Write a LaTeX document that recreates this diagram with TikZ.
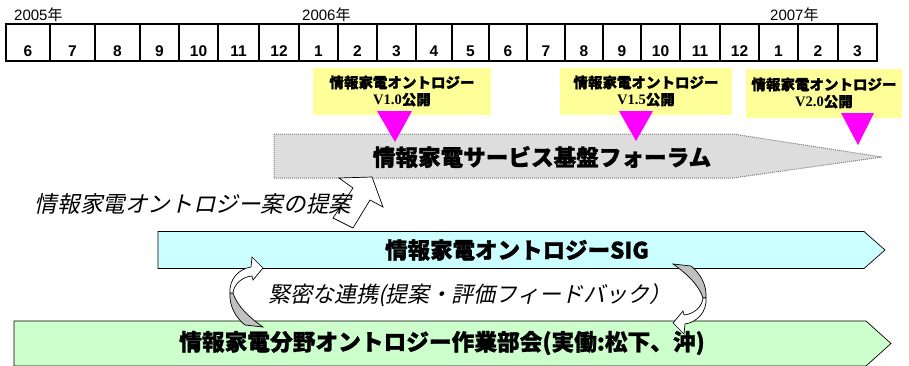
\documentclass[tikz,border=0pt]{standalone}
\usepackage{fontspec}
\setmainfont{Liberation Sans}
\newfontfamily\jp{Noto Sans CJK JP}[BoldFeatures={FakeBold=1.2}]
\newfontfamily\jpi{Noto Sans CJK JP}[FakeSlant=0.22]
\newfontfamily\tnr{Liberation Serif}
\definecolor{yfill}{HTML}{FFFF99}
\definecolor{mag}{HTML}{FF00FF}
\definecolor{gfill}{HTML}{DDDDDD}
\definecolor{cfill}{HTML}{CCFFFF}
\definecolor{grfill}{HTML}{CCFFCC}
\definecolor{cgray}{HTML}{C0C0C0}
\begin{document}
\begin{tikzpicture}[x=1pt,y=-1pt,
  cell/.style={draw=black,line width=2pt},
  num/.style={font=\fontsize{15.5}{16}\selectfont\bfseries,anchor=base,inner sep=0},
  year/.style={font=\fontsize{15}{15}\selectfont,anchor=base west,inner sep=0},
  ybox/.style={fill=yfill,draw=none,inner sep=0,align=center,font=\jp\bfseries\fontsize{14.5}{17}\selectfont},
  mtri/.style={fill=mag,draw=none},
  blk/.style={draw=black,line width=0.7pt},
  bigtxt/.style={inner sep=0,font=\jp\bfseries\fontsize{22.6}{22}\selectfont},
  itxt/.style={inner sep=0,font=\jpi\fontsize{22.6}{22}\selectfont},
]
\useasboundingbox (0,0) rectangle (909,365);
\fill[white] (0,0) rectangle (909,365);

% timeline
\foreach \a/\b/\m [count=\i] in {6/50/6,50/95/7,95/140/8,140/179/9,179/218/10,218/259/11,259/299/12,299/338/1,338/377/2,377/416/3,416/452/4,452/489/5,489/527/6,527/565/7,565/603/8,603/641/9,641/680/10,680/720/11,720/759/12,759/798/1,798/838/2,838/877/3}{
  \draw[cell] (\a,24) rectangle (\b,61);
  \node[num] (m\i) at ({(\a+\b)/2},56) {\m};
}
\node[year] (y2005) at (14,20) {2005{\jp 年}};
\node[year] (y2006) at (302,20) {2006{\jp 年}};
\node[year] (y2007) at (770,20) {2007{\jp 年}};

% forum arrow
\filldraw[fill=gfill,draw=gray,densely dotted,line width=1pt]
  (274,134) -- (733,134) -- (882,157) -- (733,178) -- (274,178) -- cycle;
\node[bigtxt] (forum) at (542,157) {情報家電サービス基盤フォーラム};

% release boxes
\node[ybox,minimum width=178pt,minimum height=47pt] (r1) at (402,91) {情報家電オントロジー\\{\tnr\bfseries V1.0}公開};
\node[ybox,minimum width=172pt,minimum height=47pt] (r2) at (646,91) {情報家電オントロジー\\{\tnr\bfseries V1.5}公開};
\node[ybox,minimum width=156pt,minimum height=49pt] (r3) at (824,93) {情報家電オントロジー\\{\tnr\bfseries V2.0}公開};
\fill[mtri] (377,111) -- (412,111) -- (395,142) -- cycle;
\fill[mtri] (619,111) -- (653,111) -- (636,141) -- cycle;
\fill[mtri] (841,113) -- (874,113) -- (858,145) -- cycle;

% proposal arrow
\filldraw[fill=white,blk] (372,177) -- (383,207) -- (370,200) -- (353,228) -- (333,218) -- (353,188) -- (339,178) -- cycle;
\node[itxt] (prop) at (193,204) {情報家電オントロジー案の提案};

% SIG arrow
\filldraw[fill=cfill,blk] (158,231.5) -- (864,231.5) -- (885,250) -- (864,268.5) -- (158,268.5) -- cycle;
\node[bigtxt,font=\jp\bfseries\fontsize{22.5}{22}\selectfont] (sig) at (517,250) {情報家電オントロジー{\bfseries SIG}};

% working group arrow
\filldraw[fill=grfill,blk] (14,321) -- (866,321) -- (891,343.5) -- (866,366) -- (14,366) -- cycle;
\node[bigtxt,font=\jp\bfseries\fontsize{22.7}{22}\selectfont] (wg) at (442,343) {情報家電分野オントロジー作業部会(実働:松下、沖)};

% curved arrows
\filldraw[fill=cgray,blk] (230,293) .. controls (229,306) and (236,318) .. (245,325) -- (263,327) .. controls (250,318) and (237,306) .. (233,293) -- cycle;
\filldraw[fill=white,blk] (230,293) .. controls (229,280) and (238,269) .. (251,267) -- (252,257) -- (263,268) -- (253,280) -- (252,276) .. controls (242,277) and (234,284) .. (233,293) -- cycle;
\begin{scope}[rotate around={180:(468,295.5)}]
\filldraw[fill=cgray,blk] (230,293) .. controls (229,306) and (236,318) .. (245,325) -- (263,327) .. controls (250,318) and (237,306) .. (233,293) -- cycle;
\filldraw[fill=white,blk] (230,293) .. controls (229,280) and (238,269) .. (251,267) -- (252,257) -- (263,268) -- (253,280) -- (252,276) .. controls (242,277) and (234,284) .. (233,293) -- cycle;
\end{scope}
\node[itxt,font=\jpi\fontsize{22}{22}\selectfont] (link) at (470,295) {緊密な連携(提案・評価フィードバック）};
\end{tikzpicture}
\end{document}
